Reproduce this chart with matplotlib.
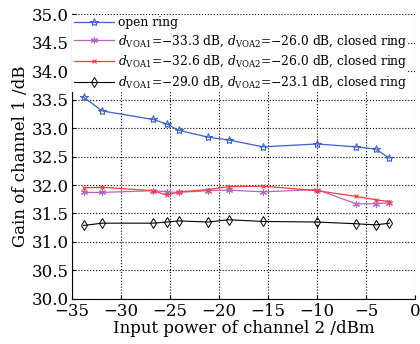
import matplotlib
matplotlib.use('Agg')
import matplotlib.pyplot as plt

plt.rcParams['font.family'] = ['DejaVu Serif']
plt.rcParams['mathtext.fontset'] = 'dejavuserif'

# input power of channel 2 (dBm)
power = [-33.8, -31.9, -26.7, -25.3, -24.1, -21.1, -19.0, -15.5, -10.0, -6.0, -4.0, -2.6]

gain_open = [33.54, 33.30, 33.15, 33.07, 32.96, 32.84, 32.79, 32.67, 32.72, 32.67, 32.63, 32.47]
gain_c1 = [31.87, 31.87, 31.90, 31.88, 31.87, 31.90, 31.91, 31.88, 31.92, 31.67, 31.67, 31.69]
gain_c2 = [31.95, 31.96, 31.90, 31.82, 31.88, 31.92, 31.97, 31.98, 31.90, 31.80, 31.74, 31.71]
gain_c3 = [31.29, 31.33, 31.33, 31.35, 31.37, 31.35, 31.39, 31.36, 31.35, 31.32, 31.30, 31.33]

labels = [
    'open ring',
    r'$d_{\rm VOA1}$=$-$33.3 dB, $d_{\rm VOA2}$=$-$26.0 dB, closed ring',
    r'$d_{\rm VOA1}$=$-$32.6 dB, $d_{\rm VOA2}$=$-$26.0 dB, closed ring',
    r'$d_{\rm VOA1}$=$-$29.0 dB, $d_{\rm VOA2}$=$-$23.1 dB, closed ring',
]

fig = plt.figure(figsize=(4.2, 3.44), dpi=100)
ax = fig.add_axes([0.171, 0.131, 0.817, 0.828])

ax.plot(power, gain_open, '-', color='#3d5fcf', lw=0.9, marker='*', ms=6,
        mfc='none', mew=0.8, label=labels[0])
ax.plot(power, gain_c1, '-', color='#b466c4', lw=0.9, marker=(6, 2, 0), ms=5,
        mew=0.8, label=labels[1])
ax.plot(power, gain_c2, '-', color='#ff3b3b', lw=0.9, marker='x', ms=3.5,
        mew=0.8, label=labels[2])
ax.plot(power, gain_c3, '-', color='black', lw=0.8, marker='d', ms=5.5,
        mfc='none', mew=0.7, label=labels[3])

ax.set_xlim(-35, 0)
ax.set_ylim(30, 35)
ax.set_xticks(range(-35, 1, 5))
ax.set_yticks([30 + 0.5 * i for i in range(11)])
ax.set_yticklabels([f'{30 + 0.5 * i:.1f}' for i in range(11)])
ax.tick_params(direction='in', length=3, labelsize=12, pad=2)
ax.tick_params(axis='x', pad=3)
ax.grid(True, linestyle=':', color='black', lw=0.8)
ax.spines['top'].set_visible(False)
ax.spines['right'].set_visible(False)

ax.set_xlabel('Input power of channel 2 /dBm', fontsize=12, labelpad=0)
ax.set_ylabel('Gain of channel 1 /dB', fontsize=12, labelpad=2)

leg = ax.legend(loc='upper left', fontsize=8.8, frameon=True, fancybox=False,
                edgecolor='none', facecolor='white', framealpha=1,
                borderaxespad=0.05, handlelength=3.3, handletextpad=0.3,
                labelspacing=0.3, borderpad=0.1)

fig.savefig('out.png', dpi=100)
